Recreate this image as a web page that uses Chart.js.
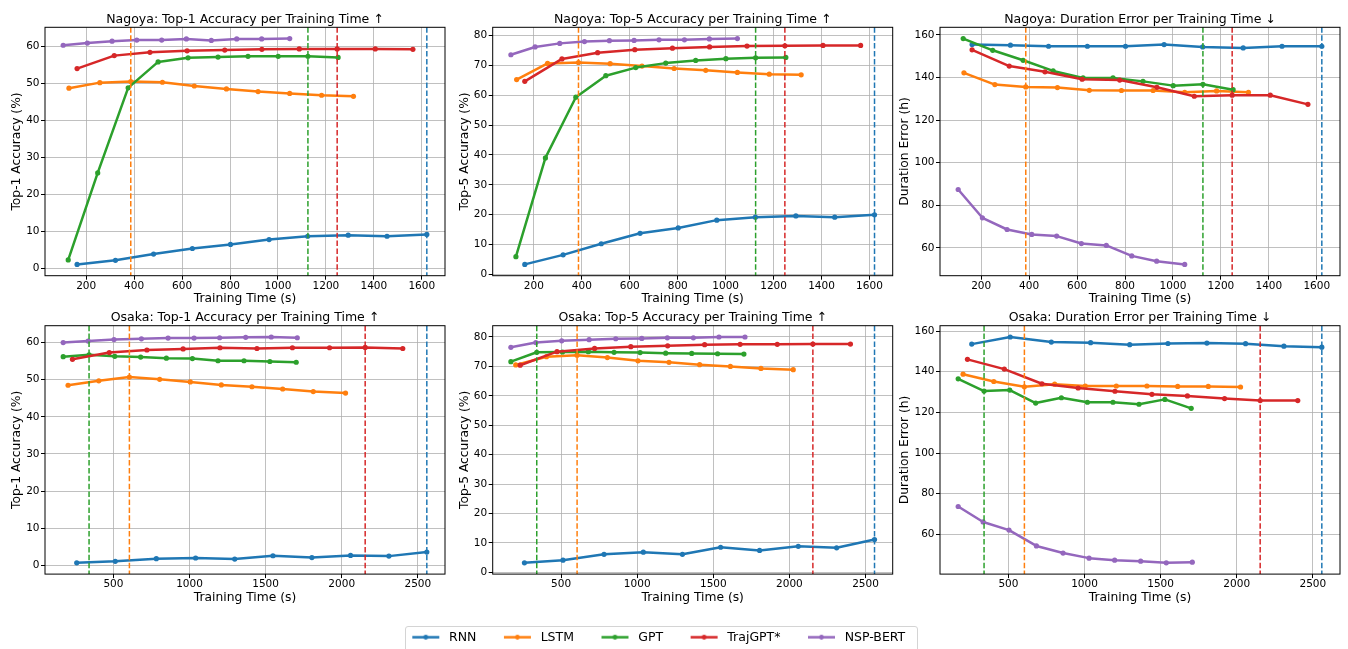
<!DOCTYPE html>
<html>
<head>
<meta charset="utf-8">
<script src="https://cdn.jsdelivr.net/npm/chart.js@4.4.1/dist/chart.umd.min.js"></script>
<style>
  html, body { margin: 0; padding: 0; background: #fff; }
  #fig { position: relative; width: 1348px; height: 649px; overflow: hidden; background: #fff; }
  #fig canvas { position: absolute; }
  #legendFrame {
    position: absolute; left: 405px; top: 626px; width: 513px; height: 27px;
    box-sizing: border-box; border: 1px solid #d4d4d4; border-radius: 3px;
  }
</style>
</head>
<body>
<div id="fig">
  <div id="legendFrame"></div>
  <canvas id="p0"></canvas>
  <canvas id="p1"></canvas>
  <canvas id="p2"></canvas>
  <canvas id="p3"></canvas>
  <canvas id="p4"></canvas>
  <canvas id="p5"></canvas>
  <canvas id="legend"></canvas>
</div>
<script>
const models = ["RNN", "LSTM", "GPT", "TrajGPT*", "NSP-BERT"];
const colors = ["#1f77b4", "#ff7f0e", "#2ca02c", "#d62728", "#9467bd"];

// training time (s) at each epoch, one row per model (same order as models)
const nagoyaTime = [
  [162, 322, 481, 643, 802, 963, 1124, 1293, 1455, 1621],
  [128, 257, 386, 518, 651, 785, 917, 1049, 1182, 1315],
  [125, 248, 375, 500, 625, 750, 875, 1001, 1125, 1251],
  [162, 317, 466, 621, 778, 933, 1089, 1247, 1406, 1563],
  [104, 205, 308, 411, 515, 618, 722, 828, 932, 1049],
];
const osakaTime = [
  [259, 512, 782, 1040, 1297, 1548, 1804, 2058, 2310, 2559],
  [202, 404, 605, 804, 1005, 1209, 1410, 1612, 1813, 2025],
  [170, 340, 509, 679, 848, 1019, 1187, 1358, 1528, 1701],
  [231, 473, 720, 958, 1200, 1443, 1676, 1920, 2154, 2401],
  [170, 334, 504, 684, 859, 1030, 1198, 1369, 1537, 1708],
];

const nagoyaTop1 = [
  [1.1, 2.2, 3.9, 5.4, 6.5, 7.8, 8.7, 9.0, 8.7, 9.2],
  [48.7, 50.2, 50.5, 50.3, 49.3, 48.5, 47.8, 47.3, 46.8, 46.5],
  [2.3, 25.8, 48.8, 55.8, 56.9, 57.1, 57.3, 57.3, 57.3, 57.0],
  [54.0, 57.5, 58.4, 58.8, 59.0, 59.2, 59.3, 59.3, 59.3, 59.2],
  [60.3, 60.9, 61.4, 61.7, 61.7, 62.0, 61.6, 62.0, 62.0, 62.1],
];
const nagoyaTop5 = [
  [3.4, 6.6, 10.3, 13.8, 15.6, 18.2, 19.2, 19.6, 19.2, 20.0],
  [65.2, 70.6, 70.9, 70.5, 69.7, 68.9, 68.3, 67.6, 67.0, 66.8],
  [6.0, 39.0, 59.3, 66.5, 69.2, 70.7, 71.6, 72.2, 72.5, 72.6],
  [64.6, 72.1, 74.2, 75.2, 75.7, 76.1, 76.4, 76.5, 76.6, 76.6],
  [73.5, 76.1, 77.3, 77.9, 78.2, 78.3, 78.5, 78.5, 78.8, 78.9],
];
const nagoyaDur = [
  [155.5, 155.2, 154.7, 154.7, 154.7, 155.5, 154.4, 153.9, 154.7, 154.7],
  [142.2, 136.7, 135.6, 135.3, 134.0, 133.9, 133.9, 133.1, 133.7, 133.1],
  [158.3, 152.8, 148.1, 143.1, 139.8, 139.8, 138.2, 136.2, 136.8, 134.3],
  [153.0, 145.4, 142.7, 139.2, 138.8, 135.4, 131.2, 131.7, 131.7, 127.4],
  [87.4, 74.1, 68.6, 66.3, 65.5, 62.0, 61.1, 56.2, 53.7, 52.2],
];
const osakaTop1 = [
  [0.7, 1.1, 1.8, 2.0, 1.7, 2.6, 2.1, 2.7, 2.5, 3.6],
  [48.5, 49.7, 50.7, 50.1, 49.4, 48.6, 48.1, 47.5, 46.8, 46.4],
  [56.2, 56.7, 56.3, 56.1, 55.8, 55.7, 55.1, 55.1, 54.9, 54.7],
  [55.5, 57.3, 58.0, 58.3, 58.6, 58.4, 58.6, 58.6, 58.7, 58.4],
  [60.0, 60.4, 60.8, 61.0, 61.2, 61.2, 61.3, 61.4, 61.5, 61.3],
];
const osakaTop5 = [
  [3.2, 4.1, 6.1, 6.8, 6.1, 8.5, 7.4, 8.8, 8.3, 11.1],
  [70.5, 73.3, 73.8, 73.0, 71.9, 71.4, 70.6, 70.0, 69.3, 68.9],
  [71.6, 74.8, 74.9, 75.0, 74.8, 74.7, 74.5, 74.4, 74.3, 74.2],
  [70.4, 75.0, 76.1, 76.7, 77.0, 77.4, 77.5, 77.5, 77.6, 77.6],
  [76.5, 78.1, 78.7, 79.1, 79.4, 79.5, 79.7, 79.7, 80.0, 80.0],
];
const osakaDur = [
  [153.6, 157.1, 154.6, 154.3, 153.3, 153.9, 154.1, 153.8, 152.6, 152.1],
  [138.8, 135.2, 132.6, 133.9, 133.0, 133.0, 133.0, 132.8, 132.8, 132.5],
  [136.5, 130.5, 131.0, 124.6, 127.2, 125.0, 125.0, 124.0, 126.4, 122.0],
  [146.1, 141.3, 134.1, 132.0, 130.4, 128.9, 128.1, 126.8, 125.8, 125.8],
  [73.7, 66.1, 62.1, 54.3, 50.8, 48.3, 47.3, 46.8, 46.0, 46.3],
];

// epoch index of the best checkpoint (dashed line), null = none
const nagoyaBest = [9, 2, 8, 7, null];
const osakaBest = [9, 2, 1, 8, null];

const nagoyaTimeTicks = [200, 400, 600, 800, 1000, 1200, 1400, 1600];
const osakaTimeTicks = [500, 1000, 1500, 2000, 2500];
const top1Ticks = [0, 10, 20, 30, 40, 50, 60];
const top5Ticks = [0, 10, 20, 30, 40, 50, 60, 70, 80];
const durTicks = [60, 80, 100, 120, 140, 160];

Chart.defaults.font.family = "'DejaVu Sans', sans-serif";
Chart.defaults.color = "#000";

// figure layout (axes boxes)
const areaLeft = [45, 492.7, 940];
const areaTop = [27.3, 325.7];
const areaW = 400, areaH = 248.4;
const canvasLeft = [0, 447, 895];
const canvasTop = [0, 298];
const CW = 453, CH = 311;
const yLabelOffset = [27.7, 27.7, 35];

function autoRange(arrs) {
  const v = arrs.flat();
  const lo = Math.min(...v), hi = Math.max(...v);
  const m = (hi - lo) * 0.05;
  return [lo - m, hi + m];
}

const framePlugin = {
  id: "frame",
  afterDatasetsDraw(chart, args, opts) {
    const { ctx, chartArea: a, scales } = chart;
    ctx.save();
    ctx.beginPath();
    ctx.rect(a.left, a.top, a.width, a.height);
    ctx.clip();
    (opts.lines || []).forEach((l) => {
      const px = scales.x.getPixelForValue(l.x);
      ctx.strokeStyle = l.color;
      ctx.lineWidth = 1.5;
      ctx.setLineDash([5.5, 2.4]);
      ctx.beginPath();
      ctx.moveTo(px, a.top);
      ctx.lineTo(px, a.bottom);
      ctx.stroke();
    });
    ctx.restore();
    ctx.save();
    ctx.strokeStyle = "#000";
    ctx.lineWidth = 1;
    ctx.strokeRect(a.left, a.top, a.width, a.height);
    ctx.restore();
  },
};

const panels = [
  { id: "p0", col: 0, row: 0, time: nagoyaTime, vals: nagoyaTop1, best: nagoyaBest, xt: nagoyaTimeTicks, yt: top1Ticks,
    title: "Nagoya: Top-1 Accuracy per Training Time ↑", ylab: "Top-1 Accuracy (%)" },
  { id: "p1", col: 1, row: 0, time: nagoyaTime, vals: nagoyaTop5, best: nagoyaBest, xt: nagoyaTimeTicks, yt: top5Ticks,
    title: "Nagoya: Top-5 Accuracy per Training Time ↑", ylab: "Top-5 Accuracy (%)" },
  { id: "p2", col: 2, row: 0, time: nagoyaTime, vals: nagoyaDur, best: nagoyaBest, xt: nagoyaTimeTicks, yt: durTicks,
    title: "Nagoya: Duration Error per Training Time ↓", ylab: "Duration Error (h)" },
  { id: "p3", col: 0, row: 1, time: osakaTime, vals: osakaTop1, best: osakaBest, xt: osakaTimeTicks, yt: top1Ticks,
    title: "Osaka: Top-1 Accuracy per Training Time ↑", ylab: "Top-1 Accuracy (%)" },
  { id: "p4", col: 1, row: 1, time: osakaTime, vals: osakaTop5, best: osakaBest, xt: osakaTimeTicks, yt: top5Ticks,
    title: "Osaka: Top-5 Accuracy per Training Time ↑", ylab: "Top-5 Accuracy (%)" },
  { id: "p5", col: 2, row: 1, time: osakaTime, vals: osakaDur, best: osakaBest, xt: osakaTimeTicks, yt: durTicks,
    title: "Osaka: Duration Error per Training Time ↓", ylab: "Duration Error (h)" },
];

function makePanel(p) {
  const cv = document.getElementById(p.id);
  const left = canvasLeft[p.col];
  const top = canvasTop[p.row];
  cv.width = CW;
  cv.height = CH;
  cv.style.left = left + "px";
  cv.style.top = top + "px";

  const yW = areaLeft[p.col] - left;
  const tH = areaTop[p.row] - top;
  const xH = CH - tH - areaH;
  const xr = autoRange(p.time);
  const yr = autoRange(p.vals);

  const datasets = models.map((m, i) => ({
    label: m,
    data: p.time[i].map((x, j) => ({ x: x, y: p.vals[i][j] })),
    borderColor: colors[i],
    backgroundColor: colors[i],
    borderWidth: 2.5,
    pointRadius: 2.6,
    pointHoverRadius: 2.6,
    pointBorderWidth: 0,
    borderJoinStyle: "round",
    borderCapStyle: "round",
    tension: 0,
    order: models.length - i,
  }));

  const lines = [];
  p.best.forEach((b, i) => {
    if (b !== null) lines.push({ x: p.time[i][b], color: colors[i] });
  });

  new Chart(cv, {
    type: "line",
    data: { datasets: datasets },
    plugins: [framePlugin],
    options: {
      responsive: false,
      animation: false,
      events: [],
      layout: { padding: { left: 0, right: CW - yW - areaW, top: 0, bottom: 0 } },
      scales: {
        x: {
          type: "linear",
          min: xr[0],
          max: xr[1],
          afterBuildTicks: (s) => { s.ticks = p.xt.map((v) => ({ value: v })); },
          afterFit: (s) => { s.height = xH; },
          ticks: { autoSkip: false, maxRotation: 0, padding: 0, font: { size: 10.5 }, callback: (v) => String(v) },
          grid: { color: "#b0b0b0", lineWidth: 0.8, tickColor: "#000", tickWidth: 1, tickLength: 4 },
          border: { display: false },
          title: { display: true, text: "Training Time (s)", font: { size: 12.3 },
            padding: { top: 0, bottom: xH - 23.3 - 7.38 } },
        },
        y: {
          type: "linear",
          min: yr[0],
          max: yr[1],
          afterBuildTicks: (s) => { s.ticks = p.yt.map((v) => ({ value: v })); },
          afterFit: (s) => { s.width = yW; },
          ticks: { autoSkip: false, padding: 1.5, font: { size: 10.5 }, callback: (v) => String(v) },
          grid: { color: "#b0b0b0", lineWidth: 0.8, tickColor: "#000", tickWidth: 1, tickLength: 4 },
          border: { display: false },
          title: { display: true, text: p.ylab, font: { size: 12.3 },
            padding: { top: yW - yLabelOffset[p.col] - 7.38, bottom: 0 } },
        },
      },
      plugins: {
        legend: { display: false },
        tooltip: { enabled: false },
        title: {
          display: true,
          text: p.title,
          fullSize: false,
          font: { size: 12.5, weight: "normal" },
          padding: { top: tH - 8 - 7.5, bottom: 0.5 },
        },
        frame: { lines: lines },
      },
    },
  });
}

panels.forEach(makePanel);

// shared legend
function legendIcon(color) {
  const c = document.createElement("canvas");
  c.width = 29;
  c.height = 7;
  const g = c.getContext("2d");
  g.strokeStyle = color;
  g.lineWidth = 2.5;
  g.beginPath();
  g.moveTo(1, 3.5);
  g.lineTo(28, 3.5);
  g.stroke();
  g.fillStyle = color;
  g.beginPath();
  g.arc(14.5, 3.5, 2.4, 0, Math.PI * 2);
  g.fill();
  return c;
}
const icons = colors.map(legendIcon);

// canvas is taller than the page so the legend box is not clipped (only its top row shows)
const lc = document.getElementById("legend");
lc.width = 560;
lc.height = 170;
lc.style.left = "377px";
lc.style.top = "607px";

new Chart(lc, {
  type: "line",
  data: { datasets: models.map((m, i) => ({ label: m, data: [], borderColor: colors[i] })) },
  options: {
    responsive: false,
    animation: false,
    events: [],
    layout: { padding: 0 },
    scales: { x: { display: false }, y: { display: false } },
    plugins: {
      tooltip: { enabled: false },
      legend: {
        display: true,
        position: "top",
        align: "center",
        labels: {
          usePointStyle: true,
          pointStyleWidth: 34,
          padding: 24,
          color: "#000",
          font: { size: 12.5 },
          generateLabels: () => models.map((m, i) => ({
            text: m,
            pointStyle: icons[i],
            fillStyle: colors[i],
            strokeStyle: colors[i],
            lineWidth: 0,
            hidden: false,
            datasetIndex: i,
            fontColor: "#000",
          })),
        },
      },
    },
  },
});
</script>
</body>
</html>
